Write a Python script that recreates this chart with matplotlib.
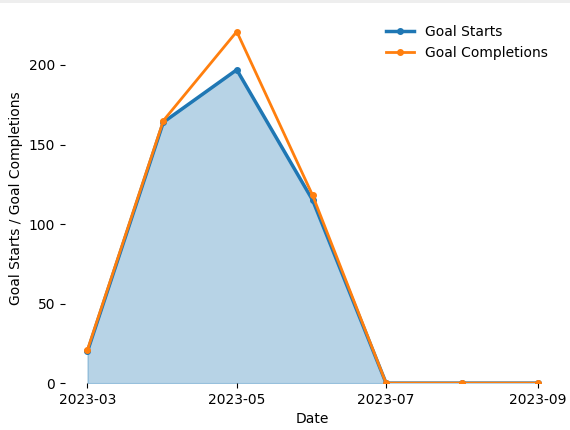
import datetime as dt

import matplotlib
matplotlib.use("Agg")
import matplotlib.pyplot as plt
import matplotlib.dates as mdates
from matplotlib.patches import Rectangle

months = ["2023-03", "2023-04", "2023-05", "2023-06", "2023-07", "2023-08", "2023-09"]
goal_starts = [20, 164, 197, 115, 0, 0, 0]
goal_completions = [21, 165, 221, 118, 0, 0, 0]

dates = [dt.datetime.strptime(m, "%Y-%m") for m in months]

fig = plt.figure(figsize=(5.7, 4.3), dpi=100)
ax = fig.add_axes([0.114, 0.109, 0.869, 0.862])

# thin gray band along the top edge
fig.patches.append(Rectangle((0, 1 - 3 / 430), 1, 3 / 430, transform=fig.transFigure,
                             facecolor="#eeeeee", edgecolor="none", zorder=-1))

ax.fill_between(dates, goal_starts, color="#1f77b4", alpha=0.32, linewidth=1)
ax.plot(dates, goal_starts, color="#1f77b4", linewidth=2.5, marker="o", markersize=4,
        label="Goal Starts")
ax.plot(dates, goal_completions, color="#ff7f0e", linewidth=2, marker="o", markersize=4,
        label="Goal Completions")

ax.margins(x=0.05)
ax.set_ylim(0, 233)
ax.set_yticks([0, 50, 100, 150, 200])
ax.xaxis.set_major_locator(mdates.MonthLocator(bymonth=[3, 5, 7, 9]))
ax.xaxis.set_major_formatter(mdates.DateFormatter("%Y-%m"))

for s in ax.spines.values():
    s.set_visible(False)

ax.set_xlabel("Date")
ax.set_ylabel("Goal Starts / Goal Completions")
ax.legend(loc="upper right", frameon=False)

fig.savefig("out.png", dpi=100)
